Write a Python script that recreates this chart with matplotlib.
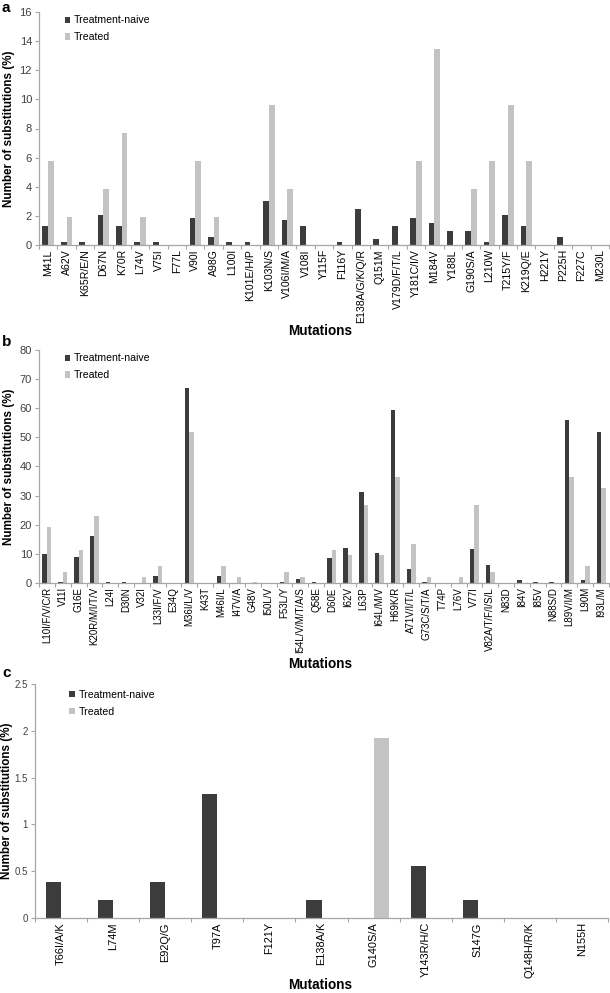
import matplotlib
matplotlib.use("Agg")
import matplotlib.pyplot as plt
from matplotlib.patches import Patch
from matplotlib.transforms import blended_transform_factory
import numpy as np

plt.rcParams['font.family'] = ['Liberation Sans', 'DejaVu Sans']

# ---------------- data ----------------
a_labels = ["M41L", "A62V", "K65R/E/N", "D67N", "K70R", "L74V", "V75I", "F77L", "V90I",
            "A98G", "L100I", "K101E/H/P", "K103N/S", "V106I/M/A", "V108I", "Y115F", "F116Y",
            "E138A/G/K/Q/R", "Q151M", "V179D/F/T/L", "Y181C/I/V", "M184V", "Y188L",
            "G190S/A", "L210W", "T215Y/F", "K219Q/E", "H221Y", "P225H", "F227C", "M230L"]
a_naive = [1.31, 0.19, 0.19, 2.06, 1.31, 0.19, 0.19, 0, 1.88, 0.56, 0.19, 0.19, 3.0, 1.69,
           1.31, 0, 0.19, 2.44, 0.38, 1.31, 1.88, 1.5, 0.94, 0.94, 0.19, 2.06, 1.31, 0, 0.56, 0, 0]
a_treated = [5.77, 1.92, 0, 3.85, 7.69, 1.92, 0, 0, 5.77, 1.92, 0, 0, 9.62, 3.85, 0, 0, 0,
             0, 0, 0, 5.77, 13.46, 0, 3.85, 5.77, 9.62, 5.77, 0, 0, 0, 0]

b_labels = ["L10I/F/V/C/R", "V11I", "G16E", "K20R/M/I/T/V", "L24I", "D30N", "V32I", "L33I/F/V",
            "E34Q", "M36I/L/V", "K43T", "M46I/L", "I47V/A", "G48V", "I50L/V", "F53L/Y",
            "I54L/V/M/T/A/S", "Q58E", "D60E", "I62V", "L63P", "I64L/M/V", "H69K/R", "A71V/I/T/L",
            "G73C/S/T/A", "T74P", "L76V", "V77I", "V82A/T/F/I/S/L", "N83D", "I84V", "I85V",
            "N88S/D", "L89V/I/M", "L90M", "I93L/M"]
b_naive = [9.9, 0.3, 8.8, 16.3, 0.5, 0.3, 0, 2.4, 0, 66.9, 0, 2.4, 0, 0, 0, 0.2, 1.3, 0.3,
           8.7, 12.1, 31.4, 10.4, 59.3, 4.8, 0.2, 0, 0, 11.8, 6.3, 0.1, 1.0, 0.3, 0.5, 56.0, 0.9, 51.9]
b_treated = [19.2, 3.85, 11.5, 23.1, 0, 0, 1.92, 5.77, 0, 51.9, 0, 5.77, 1.92, 0.2, 0, 3.85,
             1.92, 0, 11.5, 9.6, 26.9, 9.6, 36.5, 13.5, 1.92, 0, 1.92, 26.9, 3.85, 0.1, 0, 0,
             0, 36.5, 5.77, 32.7]

c_labels = ["T66I/A/K", "L74M", "E92Q/G", "T97A", "F121Y", "E138A/K", "G140S/A",
            "Y143R/H/C", "S147G", "Q148H/R/K", "N155H"]
c_naive = [0.38, 0.19, 0.38, 1.32, 0, 0.19, 0, 0.56, 0.19, 0, 0]
c_treated = [0, 0, 0, 0, 0, 0, 1.92, 0, 0, 0, 0]

series_names = ["Treatment-naive", "Treated"]

# ---------------- style ----------------
DARK = "#3c3c3c"
LIGHT = "#c3c3c3"
AXC = "#a6a6a6"
W, H = 610, 993
fig = plt.figure(figsize=(W / 100, H / 100), dpi=100)


def make_ax(left, right, zero, top):
    return fig.add_axes([left / W, 1 - zero / H, (right - left) / W, (zero - top) / H])


def panel(ax, labels, naive, treated, ymax, ystep, bw, yfmt, leg_anchor, xlab_y, tfs,
          yfs=8, ylab_x=15):
    x = np.arange(len(labels))
    ax.bar(x - bw / 2, naive, width=bw, color=DARK, edgecolor="none", label=series_names[0])
    ax.bar(x + bw / 2, treated, width=bw, color=LIGHT, edgecolor="none", label=series_names[1])
    ax.set_xlim(-0.5, len(labels) - 0.5)
    ax.set_ylim(0, ymax)
    yt = np.arange(0, ymax + ystep / 2, ystep)
    ax.set_yticks(yt)
    ax.set_yticklabels([yfmt(v) for v in yt], fontsize=yfs, color="#404040")
    ax.set_xticks(x)
    ax.set_xticklabels(labels, rotation=90, fontsize=tfs)
    ax.set_xticks(np.arange(-0.5, len(labels), 1.0), minor=True)
    ax.tick_params(axis="x", which="major", length=0, pad=3)
    ax.tick_params(axis="x", which="minor", length=3, color=AXC, width=0.8)
    ax.tick_params(axis="y", length=3, color=AXC, width=0.8, pad=2)
    for s in ["top", "right"]:
        ax.spines[s].set_visible(False)
    for s in ["left", "bottom"]:
        ax.spines[s].set_color(AXC)
        ax.spines[s].set_linewidth(0.9)
    ax.set_ylabel("Number of substitutions (%)", fontsize=8.4, fontweight="bold")
    ax.yaxis.set_label_coords(ylab_x / W, 0.5,
                              transform=blended_transform_factory(fig.transFigure, ax.transAxes))
    handles = [Patch(facecolor=DARK, edgecolor="none"), Patch(facecolor=LIGHT, edgecolor="none")]
    ax.legend(handles, series_names, loc="upper left", bbox_to_anchor=leg_anchor,
              frameon=False, fontsize=7.6, handlelength=0.55, handleheight=0.55,
              handletextpad=0.3, labelspacing=0.65, borderpad=0, borderaxespad=0)
    fig.text(320 / W, 1 - xlab_y / H, "Mutations", fontsize=9.8, fontweight="bold",
             ha="center", va="center")


def fmt_int(v):
    return "%d" % round(v)


def fmt_c(v):
    return ("%g" % v)


ax_a = make_ax(39, 609, 245, 12)
panel(ax_a, a_labels, a_naive, a_treated, 16, 2, 0.31, fmt_int, (0.045, 0.985), 331, 7.6)
ax_b = make_ax(39, 609, 583, 350)
panel(ax_b, b_labels, b_naive, b_treated, 80, 10, 0.28, fmt_int, (0.045, 0.985), 664, 7.0)
ax_c = make_ax(35, 608, 918, 684)
panel(ax_c, c_labels, c_naive, c_treated, 2.5, 0.5, 0.29, fmt_c, (0.06, 0.975), 985, 7.9,
      yfs=7, ylab_x=13)

for letter, (lx, ly) in zip(["a", "b", "c"], [(2, 8), (2, 342), (2, 673)]):
    fig.text(lx / W, 1 - ly / H, letter, fontsize=11, fontweight="bold", ha="left", va="center")

fig.savefig("out.png", dpi=100)
